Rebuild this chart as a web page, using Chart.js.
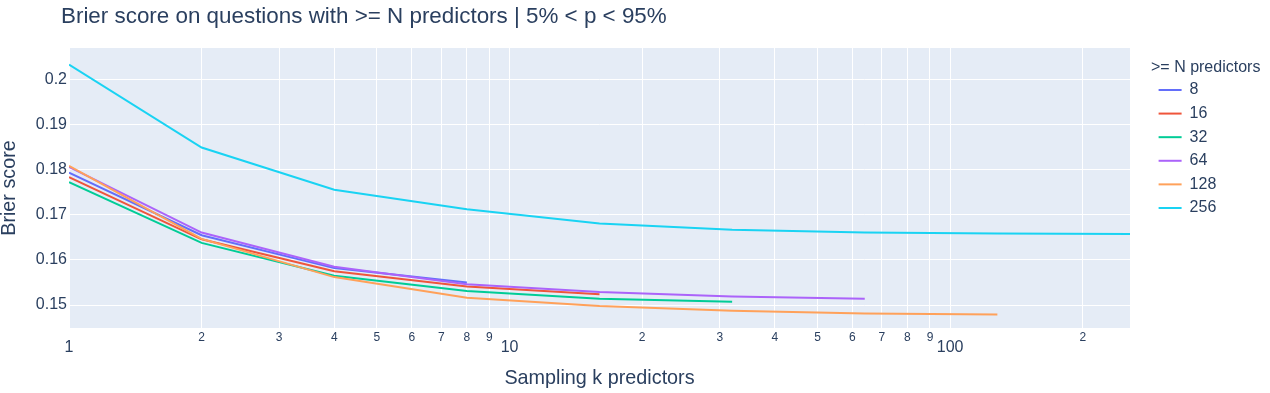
<!DOCTYPE html>
<html>
<head>
<meta charset="utf-8">
<script src="https://cdn.jsdelivr.net/npm/chart.js@4/dist/chart.umd.min.js"></script>
<style>
  body { margin: 0; background: #fff; }
</style>
</head>
<body>
<canvas id="chart" width="1270" height="393"></canvas>
<script>
'use strict';

// sampling k predictors (x axis, log)
const kValues = [1, 2, 4, 8, 16, 32, 64, 128, 256];

// legend groups: questions with >= N predictors
const groupNames = ['8', '16', '32', '64', '128', '256'];

// brier score per group, one value per k until k reaches N
const brier8 = [0.1794, 0.1655, 0.1582, 0.1550];
const brier16 = [0.1784, 0.1646, 0.1575, 0.1541, 0.1524];
const brier32 = [0.1773, 0.1638, 0.1565, 0.1531, 0.1514, 0.1507];
const brier64 = [0.1807, 0.1661, 0.1585, 0.1546, 0.1529, 0.1519, 0.1514];
const brier128 = [0.1809, 0.1647, 0.1562, 0.1516, 0.1498, 0.1487, 0.1481, 0.1479];
const brier256 = [0.2034, 0.1850, 0.1756, 0.1713, 0.1681, 0.1667, 0.1661, 0.1659, 0.1658];

const yTicks = [0.15, 0.16, 0.17, 0.18, 0.19, 0.2];

const allSeries = [brier8, brier16, brier32, brier64, brier128, brier256];
const colors = ['#636efa', '#EF553B', '#00cc96', '#ab63fa', '#FFA15A', '#19d3f3'];

const textColor = '#2a3f5f';
Chart.defaults.font.family = '"Liberation Sans", Arial, sans-serif';
Chart.defaults.color = textColor;

function isNiceTick(v) {
  const p = Math.pow(10, Math.floor(Math.log10(v) + 1e-9));
  const s = Math.round(v / p * 1000) / 1000;
  return Number.isInteger(s) && s >= 1 && s <= 9;
}
function isDecade(v) {
  return v === 1 || v === 10 || v === 100 || v === 1000;
}

const datasets = allSeries.map((vals, i) => ({
  label: groupNames[i],
  data: vals.map((y, j) => ({ x: kValues[j], y: y })),
  borderColor: colors[i],
  backgroundColor: colors[i],
  borderWidth: 2,
  pointRadius: 0,
  pointHoverRadius: 0,
  tension: 0,
  fill: false,
  order: allSeries.length - i
}));

const plotBg = {
  id: 'plotBg',
  beforeLayout(chart) {
    const lg = chart.legend;
    if (lg && !lg._fixed) {
      const f = lg.fit;
      lg.fit = function () { f.call(this); this.width = 140; };
      lg._fixed = true;
    }
  },
  afterLayout(chart) {
    if (chart.titleBlock) {
      chart.titleBlock.left = 61;
    }
    if (chart.legend) {
      chart.legend.left += 21;
      chart.legend.right += 21;
    }
  },
  beforeDraw(chart) {
    const { ctx, chartArea } = chart;
    ctx.save();
    ctx.fillStyle = '#fff';
    ctx.fillRect(0, 0, chart.width, chart.height);
    ctx.fillStyle = '#E5ECF6';
    ctx.fillRect(chartArea.left, chartArea.top, chartArea.right - chartArea.left, chartArea.bottom - chartArea.top);
    ctx.restore();
  }
};

const config = {
  type: 'line',
  data: { datasets: datasets },
  options: {
    responsive: false,
    animation: false,
    layout: { padding: 0 },
    plugins: {
      title: {
        display: true,
        text: 'Brier score on questions with >= N predictors | 5% < p < 95%',
        align: 'start',
        color: textColor,
        font: { size: 22.4, weight: 'normal', lineHeight: 1.2 },
        padding: { top: 3.6, bottom: 17.5 }
      },
      legend: {
        position: 'right',
        align: 'start',
        fullSize: false,
        title: {
          display: true,
          text: '>= N predictors',
          position: 'start',
          color: textColor,
          font: { size: 16, lineHeight: 0.8 },
          padding: { top: 12, bottom: 1.6 }
        },
        labels: {
          usePointStyle: true,
          pointStyle: 'line',
          pointStyleWidth: 23,
          padding: 7.6,
          color: textColor,
          font: { size: 16 },
          sort: (a, b) => a.datasetIndex - b.datasetIndex
        }
      },
      tooltip: { enabled: false }
    },
    scales: {
      x: {
        type: 'logarithmic',
        min: 1,
        max: 256,
        afterBuildTicks: (scale) => {
          scale.ticks = scale.ticks.filter(t => isNiceTick(t.value) && t.value <= 256);
        },
        afterFit: (scale) => { scale.height = 65; },
        grid: { color: '#ffffff', lineWidth: 1, drawTicks: false },
        border: { display: false },
        ticks: {
          autoSkip: false,
          maxRotation: 0,
          padding: 2,
          color: textColor,
          font: (c) => (c.tick && isDecade(c.tick.value))
            ? { size: 16, lineHeight: 0.72 }
            : { size: 12, lineHeight: 1.2 },
          callback: function (value) {
            if (isDecade(value)) return ['', String(value)];
            const p = Math.pow(10, Math.floor(Math.log10(value) + 1e-9));
            return String(Math.round(value / p));
          }
        },
        title: {
          display: true,
          text: 'Sampling k predictors',
          color: textColor,
          font: { size: 19.8, lineHeight: 1.2 },
          padding: { top: 0, bottom: 2.1 }
        }
      },
      y: {
        type: 'linear',
        min: 0.14489,
        max: 0.20711,
        afterBuildTicks: (scale) => {
          scale.ticks = yTicks.map(v => ({ value: v }));
        },
        afterFit: (scale) => { scale.width = 69; },
        grid: { color: '#ffffff', lineWidth: 1, drawTicks: false },
        border: { display: false },
        ticks: {
          padding: 2,
          color: textColor,
          font: { size: 16 },
          callback: (v) => String(+v.toFixed(2))
        },
        title: {
          display: true,
          text: 'Brier score',
          color: textColor,
          font: { size: 19.8, lineHeight: 1 },
          padding: { top: 0, bottom: 0 }
        }
      }
    }
  },
  plugins: [plotBg]
};

const myChart = new Chart(document.getElementById('chart'), config);
</script>
</body>
</html>
